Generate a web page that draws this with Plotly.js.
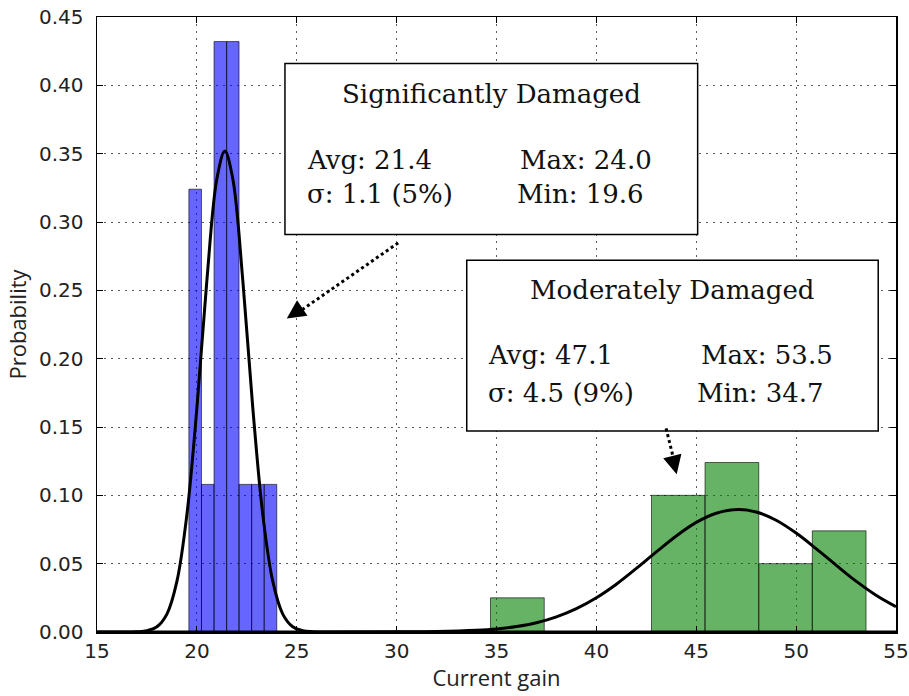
<!DOCTYPE html>
<html>
<head>
<meta charset="utf-8">
<script src="https://cdn.plot.ly/plotly-3.0.1.min.js"></script>
<style>
  html, body { margin: 0; padding: 0; background: #fff; }
  #chart { width: 909px; height: 696px; }
</style>
</head>
<body>
<div id="chart"></div>
<script>
// ---- Data ----
const blueEdges   = [19.6, 20.23, 20.86, 21.49, 22.11, 22.74, 23.37, 24.0];
const blueHeights = [0.324, 0.108, 0.432, 0.432, 0.108, 0.108, 0.108];

const greenEdges   = [34.7, 37.39, 40.07, 42.76, 45.44, 48.13, 50.81, 53.5];
const greenHeights = [0.025, 0.0, 0.0, 0.100, 0.124, 0.050, 0.074];

const blueCurveX = [15, 16, 17, 17.5, 18, 18.5, 19, 19.5, 20, 20.5, 21, 21.4, 21.8, 22.3, 22.8, 23.3, 23.8, 24.3, 24.8, 25.3, 25.8, 27, 30, 40, 55];
const blueCurveY = [0, 0, 0.0002, 0.0009, 0.0038, 0.0131, 0.037, 0.0859, 0.1638, 0.2571, 0.3315, 0.352, 0.3315, 0.2571, 0.1638, 0.0859, 0.037, 0.0131, 0.0038, 0.0009, 0.0002, 0, 0, 0, 0];

const greenCurveX = [15, 25, 30, 32, 34, 35, 36, 37, 38, 39, 40, 41, 42, 43, 44, 45, 46, 47.1, 48, 49, 50, 51, 52, 53, 54, 55];
const greenCurveY = [0, 0, 0.0001, 0.0003, 0.0012, 0.0022, 0.0040, 0.0068, 0.0111, 0.0171, 0.0251, 0.0350, 0.0465, 0.0586, 0.0703, 0.0802, 0.0869, 0.0896, 0.0878, 0.0818, 0.0724, 0.0610, 0.0489, 0.0372, 0.0269, 0.0185];

const xTickVals = [15, 20, 25, 30, 35, 40, 45, 50, 55];
const yTickVals = [0, 0.05, 0.10, 0.15, 0.20, 0.25, 0.30, 0.35, 0.40, 0.45];

const xLabel = 'Current gain';
const yLabel = 'Probability';

const box1Title = 'Significantly Damaged';
const box1Stats = ['Avg: 21.4', 'Max: 24.0', 'σ: 1.1 (5%)', 'Min: 19.6'];
const box2Title = 'Moderately Damaged';
const box2Stats = ['Avg: 47.1', 'Max: 53.5', 'σ: 4.5 (9%)', 'Min: 34.7'];

// ---- Build traces ----
function barTrace(edges, heights, fill) {
  const lefts = edges.slice(0, -1);
  const widths = lefts.map((e, i) => edges[i + 1] - e);
  return {
    type: 'bar', x: lefts, y: heights, width: widths, offset: 0,
    marker: { color: fill, line: { color: 'rgba(0,0,0,0.6)', width: 1 } },
    hoverinfo: 'skip', showlegend: false
  };
}
function curveTrace(x, y) {
  return {
    type: 'scatter', mode: 'lines', x: x, y: y,
    line: { color: '#000', width: 3, shape: 'spline', smoothing: 1 },
    hoverinfo: 'skip', showlegend: false
  };
}

const traces = [
  barTrace(blueEdges, blueHeights, 'rgba(0,0,255,0.6)'),
  barTrace(greenEdges, greenHeights, 'rgba(0,128,0,0.6)'),
  curveTrace(blueCurveX, blueCurveY),
  curveTrace(greenCurveX, greenCurveY)
];

const serif = 'DejaVu Serif, serif';
const boxFont = { family: serif, size: 26, color: '#111' };

function txt(x, y, text, anchor) {
  return { x: x, y: y, xref: 'x', yref: 'y', text: text, showarrow: false,
           xanchor: anchor, yanchor: 'middle', font: boxFont };
}
function head(x, y, ax, ay) {
  return { x: x, y: y, xref: 'x', yref: 'y', ax: ax, ay: ay, text: '',
           showarrow: true, arrowhead: 2, arrowsize: 1.7, arrowwidth: 2.2,
           arrowcolor: '#000', standoff: 0, startstandoff: 0 };
}

const annotations = [
  txt(34.76, 0.394, box1Title, 'center'),
  txt(25.40, 0.3452, box1Stats[0], 'left'),
  txt(36.08, 0.3452, box1Stats[1], 'left'),
  txt(25.40, 0.3203, box1Stats[2], 'left'),
  txt(35.92, 0.3203, box1Stats[3], 'left'),
  txt(43.82, 0.2501, box2Title, 'center'),
  txt(34.45, 0.2026, box2Stats[0], 'left'),
  txt(45.13, 0.2026, box2Stats[1], 'left'),
  txt(34.45, 0.1748, box2Stats[2], 'left'),
  txt(44.96, 0.1748, box2Stats[3], 'left'),
  head(24.50, 0.2294, 11.6, -7.8),
  head(44.02, 0.1155, -2.8, -11.7)
];

const shapes = [
  { type: 'rect', xref: 'x', yref: 'y', x0: 24.41, x1: 45.07, y0: 0.2908, y1: 0.4159,
    fillcolor: '#fff', line: { color: '#000', width: 1.5 } },
  { type: 'rect', xref: 'x', yref: 'y', x0: 33.51, x1: 54.11, y0: 0.147, y1: 0.272,
    fillcolor: '#fff', line: { color: '#000', width: 1.5 } },
  { type: 'line', xref: 'x', yref: 'y', x0: 30.08, y0: 0.2847, x1: 24.9, y1: 0.2321,
    line: { color: '#000', width: 3, dash: 'dot' } },
  { type: 'line', xref: 'x', yref: 'y', x0: 43.49, y0: 0.149, x1: 43.96, y1: 0.121,
    line: { color: '#000', width: 3, dash: 'dot' } }
];

const axisCommon = {
  showline: true, mirror: 'allticks', linecolor: '#000', linewidth: 1.5,
  ticks: 'inside', ticklen: 6, tickwidth: 1, tickcolor: '#000',
  showgrid: true, gridcolor: 'rgba(0,0,0,0.65)', gridwidth: 1, griddash: '2px,5px',
  zeroline: false, fixedrange: true,
  tickfont: { family: 'DejaVu Sans, sans-serif', size: 20, color: '#222' }
};

const layout = {
  width: 909, height: 696,
  margin: { l: 97, r: 13, t: 17, b: 64 },
  paper_bgcolor: '#fff', plot_bgcolor: '#fff',
  bargap: 0,
  xaxis: Object.assign({}, axisCommon, {
    range: [15, 55], tickvals: xTickVals, ticktext: xTickVals.map(String),
    ticklabelstandoff: 0,
    title: { text: xLabel, font: { family: 'Open Sans, sans-serif', size: 22, color: '#222' }, standoff: 6 }
  }),
  yaxis: Object.assign({}, axisCommon, {
    range: [0, 0.45], tickvals: yTickVals, ticktext: yTickVals.map(v => v.toFixed(2)),
    ticklabelstandoff: 8,
    title: { text: yLabel, font: { family: 'Open Sans, sans-serif', size: 22, color: '#222' }, standoff: 6 }
  }),
  annotations: annotations,
  shapes: shapes
};

Plotly.newPlot('chart', traces, layout, { displayModeBar: false, staticPlot: true });
</script>
</body>
</html>
